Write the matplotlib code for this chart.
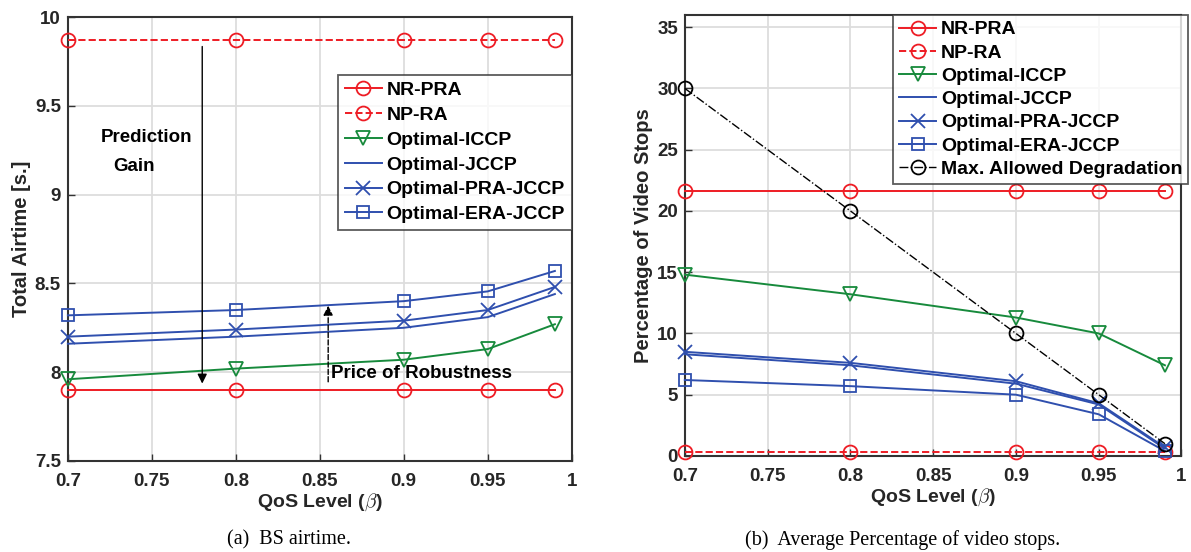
import numpy as np
import matplotlib
matplotlib.use("Agg")
import matplotlib.pyplot as plt

qos = [0.7, 0.8, 0.9, 0.95, 0.99]

# (a) total airtime [s.]
air_nr_pra = [7.9, 7.9, 7.9, 7.9, 7.9]
air_np_ra = [9.87, 9.87, 9.87, 9.87, 9.87]
air_iccp = [7.96, 8.02, 8.07, 8.13, 8.27]
air_jccp = [8.16, 8.20, 8.25, 8.31, 8.44]
air_pra_jccp = [8.20, 8.24, 8.29, 8.35, 8.48]
air_era_jccp = [8.32, 8.35, 8.40, 8.455, 8.57]

# (b) percentage of video stops
stop_nr_pra = [21.6, 21.6, 21.6, 21.6, 21.6]
stop_np_ra = [0.3, 0.3, 0.3, 0.3, 0.3]
stop_iccp = [14.8, 13.2, 11.3, 10.0, 7.4]
stop_jccp = [8.3, 7.4, 5.9, 4.2, 0.6]
stop_pra_jccp = [8.5, 7.6, 6.1, 4.3, 0.7]
stop_era_jccp = [6.2, 5.7, 5.0, 3.4, 0.4]
stop_max_deg = [30, 20, 10, 5, 1]

RED = "#ee1c24"
GREEN = "#178a3c"
BLUE = "#2f4fae"
TXT = "#262626"

plt.rcParams["font.family"] = ["Liberation Sans", "DejaVu Sans"]
plt.rcParams["font.weight"] = "bold"
plt.rcParams["mathtext.fontset"] = "cm"

fig = plt.figure(figsize=(11.91, 5.52), dpi=100)
ax1 = fig.add_axes([0.057, 0.165, 0.423, 0.804])
ax2 = fig.add_axes([0.575, 0.174, 0.417, 0.799])

ms = 10
mew = 1.3
lw = 1.4
FS = 13.5
LFS = 14


def style_axes(ax):
    ax.grid(True, color="#dddddd", linewidth=1.3)
    ax.set_axisbelow(True)
    for s in ax.spines.values():
        s.set_color("#333333")
        s.set_linewidth(1.5)
    ax.tick_params(direction="in", length=5, width=1, labelsize=FS,
                   labelcolor=TXT, color="#333333")
    ax.tick_params(axis="x", pad=9)
    ax.tick_params(axis="y", pad=5)
    for lab in ax.get_xticklabels() + ax.get_yticklabels():
        lab.set_fontweight("bold")
    ax.set_xlim(0.7, 1.0)
    ax.set_xticks([0.7, 0.75, 0.8, 0.85, 0.9, 0.95, 1.0])
    ax.set_xticklabels(["0.7", "0.75", "0.8", "0.85", "0.9", "0.95", "1"])
    ax.set_xlabel(r"QoS Level ($\beta$)", fontsize=14, fontweight="bold",
                  color=TXT, labelpad=1)


def draw(ax, x, y, fmt, color, label, **kw):
    ax.plot(x, y, fmt, color=color, mew=mew, lw=kw.pop("lw", lw), label=label,
            clip_on=False, zorder=3, **kw)


def make_legend(ax, anchor, spacing, pad):
    leg = ax.legend(loc="upper right", bbox_to_anchor=anchor, fontsize=LFS,
                    frameon=True, fancybox=False, edgecolor="#333333",
                    handlelength=1.9, handletextpad=0.25, borderpad=pad,
                    labelspacing=spacing, borderaxespad=0)
    leg.get_frame().set_linewidth(1.3)
    for t in leg.get_texts():
        t.set_fontweight("bold")
    return leg


# left panel
draw(ax1, qos, air_nr_pra, "-o", RED, "NR-PRA", ms=ms, mfc="none")
draw(ax1, qos, air_np_ra, "--o", RED, "NP-RA", ms=ms, mfc="none")
draw(ax1, qos, air_iccp, "-v", GREEN, "Optimal-ICCP", ms=ms, mfc="none")
draw(ax1, qos, air_jccp, "-", BLUE, "Optimal-JCCP")
draw(ax1, qos, air_pra_jccp, "-x", BLUE, "Optimal-PRA-JCCP", ms=ms)
draw(ax1, qos, air_era_jccp, "-s", BLUE, "Optimal-ERA-JCCP", ms=8.5, mfc="none")
ax1.set_ylim(7.5, 10)
ax1.set_yticks([7.5, 8, 8.5, 9, 9.5, 10])
ax1.set_yticklabels(["7.5", "8", "8.5", "9", "9.5", "10"])
style_axes(ax1)
ax1.set_ylabel("Total Airtime [s.]", fontsize=14.5, fontweight="bold", color=TXT, labelpad=3)

ax1.annotate("", xy=(0.78, 7.92), xytext=(0.78, 9.85),
             arrowprops=dict(arrowstyle="-|>", color="black", lw=1.0, mutation_scale=14))
ax1.text(0.7195, 9.32, "Prediction", fontsize=FS, fontweight="bold", va="center")
ax1.text(0.727, 9.16, "Gain", fontsize=FS, fontweight="bold", va="center")
ax1.annotate("", xy=(0.855, 8.39), xytext=(0.855, 7.93),
             arrowprops=dict(arrowstyle="-|>", color="black", lw=1.0, ls="--",
                             mutation_scale=14))
ax1.text(0.8565, 7.99, "Price of Robustness", fontsize=FS, fontweight="bold", va="center")

make_legend(ax1, (1.0, 0.87), 0.37, 0.35)

# right panel
draw(ax2, qos, stop_nr_pra, "-o", RED, "NR-PRA", ms=ms, mfc="none")
draw(ax2, qos, stop_np_ra, "--o", RED, "NP-RA", ms=ms, mfc="none")
draw(ax2, qos, stop_iccp, "-v", GREEN, "Optimal-ICCP", ms=ms, mfc="none")
draw(ax2, qos, stop_jccp, "-", BLUE, "Optimal-JCCP")
draw(ax2, qos, stop_pra_jccp, "-x", BLUE, "Optimal-PRA-JCCP", ms=ms)
draw(ax2, qos, stop_era_jccp, "-s", BLUE, "Optimal-ERA-JCCP", ms=8.5, mfc="none")
draw(ax2, qos, stop_max_deg, "-.o", "black", "Max. Allowed Degradation", ms=ms,
     mfc="none", lw=1.0)
ax2.set_ylim(0, 36)
ax2.set_yticks([0, 5, 10, 15, 20, 25, 30, 35])
style_axes(ax2)
ax2.set_ylabel("Percentage of Video Stops", fontsize=14.5, fontweight="bold", color=TXT, labelpad=3)

make_legend(ax2, (1.014, 1.0), 0.29, 0.3)

# captions
fig.text(0.243, 0.022, "(a)  BS airtime.", fontsize=14.5, family="Liberation Serif",
         fontweight="normal", ha="center", va="center")
fig.text(0.758, 0.022, "(b)  Average Percentage of video stops.", fontsize=14.5,
         family="Liberation Serif", fontweight="normal", ha="center", va="center")

fig.savefig("out.png", dpi=100)
